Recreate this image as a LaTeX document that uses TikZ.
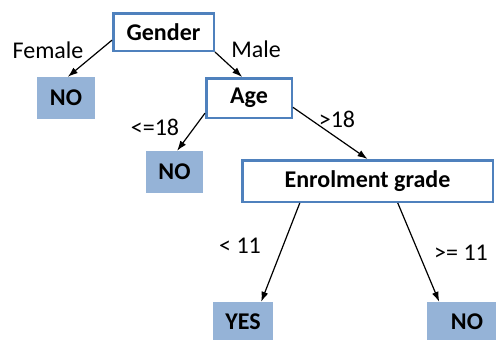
\documentclass[tikz,border=0pt]{standalone}
\usepackage{fontspec}
\setmainfont{Carlito}
\usepackage{tikz}
\usetikzlibrary{shapes,arrows.meta}
\definecolor{boxline}{RGB}{79,129,189}
\definecolor{leaffill}{RGB}{149,179,215}
\tikzstyle{att}=[rectangle,draw=boxline,line width=2.5pt,fill=white,inner sep=0pt,font=\fontsize{24}{28}\selectfont\bfseries]
\tikzstyle{leaf}=[rectangle,fill=leaffill,inner sep=0pt,minimum height=42pt,font=\fontsize{24}{28}\selectfont\bfseries]
\tikzstyle{lbl}=[inner sep=0pt,font=\fontsize{24}{28}\selectfont]
\tikzstyle{arr}=[->,>={Latex[length=10pt,width=7pt]},line width=1.2pt]

\begin{document}
\begin{tikzpicture}[x=1pt,y=-1pt]
\useasboundingbox (0,0) rectangle (496,340);
\clip (0,0) rectangle (496,340);
% tests
\node[att,minimum width=100.5pt,minimum height=37.5pt] (gender) at (163.5,32) {Gender};
\node[att,minimum width=85.5pt,minimum height=39.5pt] (age) at (249,98) {Age};
\node[att,minimum width=250.5pt,minimum height=41.5pt] (grade) at (367.5,181) {Enrolment grade};
% outcomes
\node[leaf,minimum width=58pt] (no1) at (66,98) {NO};
\node[leaf,minimum width=57pt] (no2) at (174.5,172) {NO};
\node[leaf,minimum width=60pt,minimum height=40pt] (yes) at (243,322) {YES};
\node[leaf,minimum width=80pt,minimum height=40pt] (no3) at (467,322) {NO};
% branches
\draw[arr] (gender.189) -- (no1.85);
\draw[arr] (gender.south east) -- (age.108);
\draw[arr] (age.199) -- (no2.83);
\draw[arr] (age.348) -- (grade.north);
\draw[arr] (grade.198) -- (yes.48);
\draw[arr] (grade.324) -- (no3.144);
\node[lbl] (female) at (48,50) {Female};
\node[lbl] (male) at (256,49) {Male};
\node[lbl] (le18) at (155,127) {<=18};
\node[lbl] (gt18) at (337,119) {>18};
\node[lbl] (lt11) at (240,246) {< 11};
\node[lbl] (ge11) at (461,253) {>= 11};
\end{tikzpicture}
\end{document}
